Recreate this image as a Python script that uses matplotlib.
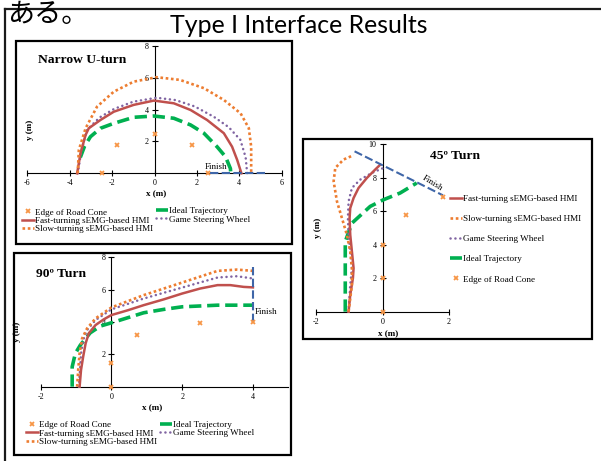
import matplotlib
matplotlib.use('Agg')
import matplotlib.pyplot as plt
from matplotlib.patches import Rectangle
from matplotlib.lines import Line2D
from matplotlib.legend import Legend
from matplotlib.font_manager import FontProperties

plt.rcParams['font.family'] = ['Liberation Serif', 'DejaVu Sans']
plt.rcParams['axes.unicode_minus'] = False

# ---------------- data ----------------
# Narrow U-turn
u_cone_x = [-2.5, -1.75, 0, 1.75, 2.5]
u_cone_y = [0, 1.75, 2.5, 1.75, 0]
u_ideal_x = [-3.5, -3.3, -3.02, -2.55, -1.92, -0.98, -0.03, 0.91, 1.7, 2.33, 2.95, 3.35, 3.58, 3.6]
u_ideal_y = [1.0, 1.7, 2.3, 2.83, 3.14, 3.52, 3.6, 3.46, 3.04, 2.52, 1.67, 1.04, 0.3, 0]
u_fast_x = [-3.65, -3.49, -3.25, -3.1, -2.55, -1.92, -0.98, -0.03, 0.91, 1.7, 2.48, 3.27, 3.66, 3.9, 4.1]
u_fast_y = [0, 1.26, 2.41, 2.83, 3.35, 3.87, 4.3, 4.57, 4.4, 3.98, 3.35, 2.52, 1.67, 0.84, 0]
u_game_x = [-3.62, -3.45, -3.2, -2.6, -1.9, -1.0, 0.1, 1.0, 1.9, 2.8, 3.5, 4.05, 4.3, 4.37]
u_game_y = [0, 1.4, 2.7, 3.5, 4.05, 4.5, 4.75, 4.6, 4.2, 3.55, 2.9, 2.1, 1.0, 0]
u_slow_x = [-3.62, -3.57, -3.25, -2.71, -1.92, -0.98, 0.1, 1.2, 2.33, 3.27, 4.06, 4.45, 4.56, 4.56]
u_slow_y = [0, 1.46, 2.83, 4.19, 5.13, 5.76, 6.04, 5.87, 5.35, 4.61, 3.77, 2.83, 1.67, 0]
u_finish_x = [2.64, 5.24]
u_finish_y = [0, 0]

# 45 degree turn
t45_cone_x = [0, 0, 0, 0.71, 1.82]
t45_cone_y = [0, 2, 4, 5.75, 6.85]
t45_fast_x = [-1.02, -0.97, -0.89, -0.87, -0.92, -0.97, -0.99, -0.97, -0.87, -0.72, -0.47, -0.22, -0.07]
t45_fast_y = [0, 1.0, 2.0, 2.6, 3.6, 4.59, 5.59, 6.19, 6.79, 7.39, 7.99, 8.49, 8.78]
t45_game_x = [-1.02, -0.97, -0.92, -0.97, -1.02, -1.04, -1.02, -0.92, -0.67, -0.32, 0.03]
t45_game_y = [0, 1.6, 2.6, 3.6, 4.59, 5.59, 6.59, 7.39, 7.89, 8.29, 8.59]
t45_slow_x = [-1.02, -0.92, -0.92, -0.97, -1.07, -1.22, -1.37, -1.47, -1.42, -1.17, -0.87]
t45_slow_y = [0, 1.6, 2.6, 3.6, 4.59, 5.59, 6.59, 7.79, 8.59, 9.09, 9.35]
t45_ideal_x = [-1.12, -1.12, -0.92, -0.37, 0.03, 0.53, 1.03]
t45_ideal_y = [0, 4.19, 5.29, 6.29, 6.69, 7.09, 7.69]
t45_finish_x = [-0.84, 1.82]
t45_finish_y = [9.58, 6.95]

# 90 degree turn
t90_cone_x = [0, 0, 0.72, 2.5, 4]
t90_cone_y = [0, 1.45, 3.2, 3.92, 4]
t90_fast_x = [-0.9, -0.86, -0.8, -0.73, -0.64, -0.45, -0.22, 0, 0.47, 0.91, 1.48, 2.0, 2.51, 3.0, 3.36, 3.74, 4.0]
t90_fast_y = [0, 1.03, 1.85, 2.68, 3.3, 3.81, 4.16, 4.43, 4.73, 5.04, 5.4, 5.76, 6.07, 6.28, 6.28, 6.17, 6.14]
t90_game_x = [-0.92, -0.89, -0.86, -0.8, -0.69, -0.45, 0, 0.91, 2.0, 3.0, 3.55, 4.0]
t90_game_y = [0, 1.03, 2.06, 2.88, 3.5, 4.12, 4.78, 5.45, 6.13, 6.75, 6.83, 6.69]
t90_slow_x = [-0.97, -0.94, -0.9, -0.83, -0.69, -0.45, 0, 0.91, 2.0, 3.0, 3.55, 4.0]
t90_slow_y = [0, 1.03, 2.06, 2.98, 3.6, 4.22, 4.9, 5.66, 6.44, 7.16, 7.24, 7.16]
t90_ideal_x = [-1.11, -1.11, -1.02, -0.88, -0.6, -0.31, 0, 0.91, 1.48, 2.0, 3.0, 4.0]
t90_ideal_y = [0, 1.23, 2.06, 2.57, 3.33, 3.75, 3.95, 4.57, 4.78, 4.94, 5.04, 5.04]
t90_finish_x = [4, 4]
t90_finish_y = [4.0, 7.6]

lab_cone = 'Edge of Road Cone'
lab_ideal = 'Ideal Trajectory'
lab_fast = 'Fast-turning sEMG-based HMI'
lab_game = 'Game Steering Wheel'
lab_slow = 'Slow-turning sEMG-based HMI'

C_CONE = '#F79646'
C_FAST = '#C0504D'
C_SLOW = '#ED7D31'
C_GAME = '#8064A2'
C_IDEAL = '#00B050'
C_FIN = '#3F66A8'

# ---------------- figure ----------------
W, H = 601, 461
fig = plt.figure(figsize=(W / 100, H / 100), dpi=100)


def fx(x):
    return x / W


def fy(y):
    return 1 - y / H


def box(x0, y0, x1, y1, lw=1.6):
    fig.add_artist(Rectangle((fx(x0), fy(y1)), (x1 - x0) / W, (y1 - y0) / H,
                             transform=fig.transFigure, fill=False,
                             edgecolor='black', lw=lw, zorder=1))


def make_axes(xp0, xp1, yp0, yp1, xlim, ylim, xticks, yticks):
    ax = fig.add_axes([fx(xp0), fy(yp0), (xp1 - xp0) / W, (yp0 - yp1) / H])
    ax.set_xlim(*xlim)
    ax.set_ylim(*ylim)
    ax.patch.set_visible(False)
    for s in ['top', 'right']:
        ax.spines[s].set_visible(False)
    ax.spines['left'].set_position(('data', 0))
    ax.spines['bottom'].set_position(('data', 0))
    for s in ['left', 'bottom']:
        ax.spines[s].set_linewidth(0.8)
    ax.set_xticks(xticks)
    ax.set_yticks(yticks)
    ax.tick_params(direction='inout', length=4.5, width=0.8, labelsize=5.8, pad=2)
    return ax


def draw(ax, fast, slow, game, ideal, cone, finish):
    h = {}
    h['ideal'], = ax.plot(*ideal, color=C_IDEAL, lw=2.6, linestyle=(0, (3.4, 1.6)),
                          clip_on=False, zorder=3)
    h['game'], = ax.plot(*game, color=C_GAME, lw=1.8, linestyle=(0, (0.05, 1.9)),
                         dash_capstyle='round', clip_on=False, zorder=4)
    h['fast'], = ax.plot(*fast, color=C_FAST, lw=1.8, clip_on=False, zorder=5)
    h['slow'], = ax.plot(*slow, color=C_SLOW, lw=1.9, linestyle=(0, (1, 1)),
                         clip_on=False, zorder=6)
    ax.plot(*finish, color=C_FIN, lw=1.5, linestyle=(0, (4, 1.6)), clip_on=False, zorder=7)
    h['cone'], = ax.plot(*cone, linestyle='none', marker='x', ms=3.2, mew=1.3,
                         color=C_CONE, clip_on=False, zorder=8)
    return h


FP = FontProperties(family='Liberation Serif', size=6.6)


def legend(ax, handles, labels, x, yc, ls, hl=1.3):
    leg = Legend(ax, handles, labels, loc='center left',
                 bbox_to_anchor=(fx(x), fy(yc)), bbox_transform=fig.transFigure,
                 frameon=False, borderpad=0, borderaxespad=0,
                 handlelength=hl, handletextpad=0.15, labelspacing=ls,
                 prop=FP, numpoints=1)
    ax.add_artist(leg)
    return leg


# outer frame
fig.add_artist(Line2D([fx(5), fx(601)], [fy(9), fy(9)], transform=fig.transFigure,
                      color='#1a1a1a', lw=1.6, zorder=1))
fig.add_artist(Line2D([fx(5), fx(5)], [fy(9), fy(461)], transform=fig.transFigure,
                      color='#1a1a1a', lw=1.6, zorder=1))

# panel boxes
box(16, 41, 292, 244)
box(303, 139, 592, 339)
box(14, 253, 291, 455)

r = fig.canvas.get_renderer()

# top texts
t = fig.text(fx(7), fy(14.5), 'ある。', ha='left', va='center', fontsize=19.5,
             family=['Noto Sans CJK JP', 'DejaVu Sans'], zorder=5)
tt = fig.text(fx(298.5), fy(33), 'Type I Interface Results', ha='center', va='baseline',
              fontsize=18, family=['Lato', 'DejaVu Sans'])
wt = tt.get_window_extent(r).width
tt.set_fontsize(18 * 257 / wt)

# ---- Panel 1: Narrow U-turn ----
ax1 = make_axes(27.3, 281.7, 173.3, 46, (-6, 6), (0, 8), [-6, -4, -2, 0, 2, 4, 6], [2, 4, 6, 8])
h1 = draw(ax1, (u_fast_x, u_fast_y), (u_slow_x, u_slow_y), (u_game_x, u_game_y),
          (u_ideal_x, u_ideal_y), (u_cone_x, u_cone_y), (u_finish_x, u_finish_y))
fig.text(fx(37.7), fy(60), 'Narrow U-turn', ha='left', va='center', weight='bold', size=9.7)
fig.text(fx(155.7), fy(194), 'x (m)', ha='center', va='center', weight='bold', size=6.5)
fig.text(fx(30), fy(130), 'y (m)', ha='center', va='center', weight='bold', size=6.5, rotation=90)
fig.text(fx(205), fy(167.3), 'Finish', ha='left', va='center', size=6.5)
legend(ax1, [h1['cone'], h1['fast'], h1['slow']], [lab_cone, lab_fast, lab_slow], 22, 220.7, -0.02)
legend(ax1, [h1['ideal'], h1['game']], [lab_ideal, lab_game], 156, 215.3, -0.02)

# ---- Panel 2: 45 degree turn ----
ax2 = make_axes(316, 449, 311.7, 144.3, (-2, 2), (0, 10), [-2, 0, 2], [2, 4, 6, 8, 10])
h2 = draw(ax2, (t45_fast_x, t45_fast_y), (t45_slow_x, t45_slow_y), (t45_game_x, t45_game_y),
          (t45_ideal_x, t45_ideal_y), (t45_cone_x, t45_cone_y), (t45_finish_x, t45_finish_y))
fig.text(fx(430), fy(155.7), '45º Turn', ha='left', va='center', weight='bold', size=9.7)
fig.text(fx(388), fy(334), 'x (m)', ha='center', va='center', weight='bold', size=6.5)
fig.text(fx(318), fy(228), 'y (m)', ha='center', va='center', weight='bold', size=6.5, rotation=90)
fig.text(fx(432.7), fy(183.3), 'Finish', ha='center', va='center', size=6.5, rotation=-32)
legend(ax2, [h2['fast'], h2['slow'], h2['game'], h2['ideal'], h2['cone']],
       [lab_fast, lab_slow, lab_game, lab_ideal, lab_cone], 450, 239, 1.28)

# ---- Panel 3: 90 degree turn ----
ax3 = make_axes(40.7, 288.3, 386.7, 257.3, (-2, 5), (0, 8), [-2, 0, 2, 4], [2, 4, 6, 8])
h3 = draw(ax3, (t90_fast_x, t90_fast_y), (t90_slow_x, t90_slow_y), (t90_game_x, t90_game_y),
          (t90_ideal_x, t90_ideal_y), (t90_cone_x, t90_cone_y), (t90_finish_x, t90_finish_y))
fig.text(fx(36), fy(274), '90º Turn', ha='left', va='center', weight='bold', size=9.7)
fig.text(fx(151.7), fy(408.3), 'x (m)', ha='center', va='center', weight='bold', size=6.5)
fig.text(fx(17.3), fy(331.7), 'y (m)', ha='center', va='center', weight='bold', size=6.5, rotation=90)
fig.text(fx(255), fy(311.7), 'Finish', ha='left', va='center', size=6.5)
legend(ax3, [h3['cone'], h3['fast'], h3['slow']], [lab_cone, lab_fast, lab_slow], 26, 433.3, -0.02)
legend(ax3, [h3['ideal'], h3['game']], [lab_ideal, lab_game], 160, 428.7, -0.02)

fig.savefig('out.png', dpi=100)
